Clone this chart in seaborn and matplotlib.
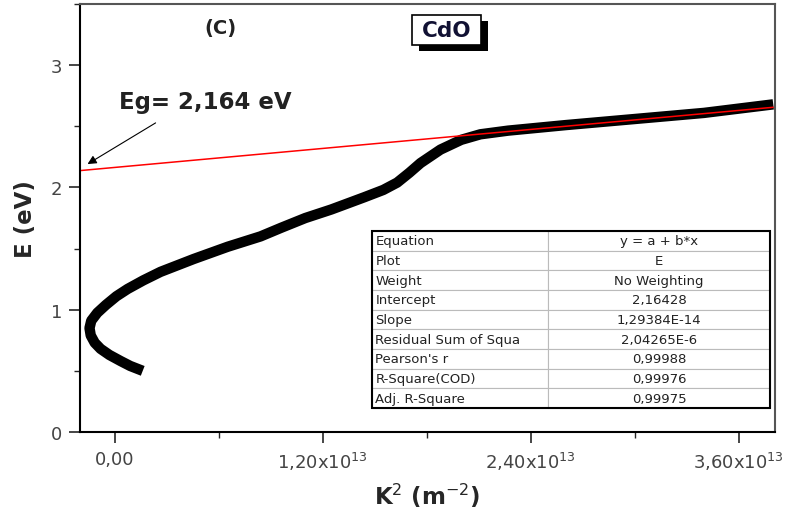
import matplotlib
matplotlib.use("Agg")
import matplotlib.pyplot as plt
import matplotlib.ticker as mticker
from matplotlib.patches import Rectangle
import seaborn as sns
import pandas as pd

# E vs K^2 curve for CdO
k2 = [1.62e12, 0.9e12, 0.35e12, -0.3e12, -0.81e12, -1.15e12, -1.38e12, -1.45e12,
      -1.35e12, -1.0e12, -0.5e12, 0.1e12, 0.75e12, 1.65e12, 2.65e12, 4.56e12,
      6.52e12, 8.42e12, 9.6e12, 1.1e13, 1.25e13, 1.44e13, 1.55e13, 1.63e13,
      1.7e13, 1.765e13, 1.88e13, 2.0e13, 2.11e13, 2.27e13, 2.6e13, 3.0e13,
      3.4e13, 3.8e13]
energy = [0.50, 0.54, 0.58, 0.63, 0.68, 0.73, 0.79, 0.85,
          0.91, 0.975, 1.04, 1.11, 1.17, 1.24, 1.31, 1.415,
          1.515, 1.60, 1.67, 1.75, 1.82, 1.92, 1.98, 2.04,
          2.12, 2.20, 2.31, 2.39, 2.435, 2.465, 2.51, 2.56,
          2.61, 2.68]

# linear fit line, end points
fit_k2 = [-2.0e12, 3.8e13]
fit_E = [2.138, 2.656]

table_keys = ["Equation", "Plot", "Weight", "Intercept", "Slope",
              "Residual Sum of Squa", "Pearson's r", "R-Square(COD)", "Adj. R-Square"]
table_vals = ["y = a + b*x", "E", "No Weighting", "2,16428", "1,29384E-14",
              "2,04265E-6", "0,99988", "0,99976", "0,99975"]

xticks = [0, 1.2e13, 2.4e13, 3.6e13]
xtick_labels = ["0,00", "1,20x10$^{13}$", "2,40x10$^{13}$", "3,60x10$^{13}$"]

df = pd.DataFrame({"K2": k2, "E": energy})
fit_df = pd.DataFrame({"K2": fit_k2, "E": fit_E})

sns.set_style("ticks")
plt.rcParams['font.family'] = ['DejaVu Sans']

fig, ax = plt.subplots(figsize=(7.88, 5.10), dpi=100)
fig.subplots_adjust(left=0.1015, right=0.9835, top=0.99, bottom=0.151)

sns.lineplot(data=df, x="K2", y="E", sort=False, estimator=None, color="black",
             lw=7.5, solid_capstyle="butt", ax=ax)
sns.lineplot(data=fit_df, x="K2", y="E", sort=False, estimator=None, color="red",
             lw=1.1, ax=ax)

ax.set_xlim(-2.0e12, 3.81e13)
ax.set_ylim(0, 3.5)
ax.set_xticks(xticks)
ax.set_xticklabels(xtick_labels)
ax.set_yticks([0, 1, 2, 3])
ax.xaxis.set_minor_locator(mticker.MultipleLocator(0.6e13))
ax.yaxis.set_minor_locator(mticker.MultipleLocator(0.5))
ax.tick_params(which="major", direction="out", length=8, width=1.2,
               labelsize=13, labelcolor="#444444", pad=5)
ax.tick_params(which="minor", direction="out", length=4, width=1.0)

for s in ["left", "bottom"]:
    ax.spines[s].set_linewidth(1.5)
    ax.spines[s].set_color("black")
for s in ["top", "right"]:
    ax.spines[s].set_linewidth(1.5)
    ax.spines[s].set_color("#555555")

ax.set_xlabel("K$^{2}$ (m$^{-2}$)", fontsize=16.5, fontweight="bold", labelpad=6)
ax.set_ylabel("E (eV)", fontsize=16.5, fontweight="bold", labelpad=10)

ax.text(6.1e12, 3.31, "(C)", fontsize=14, fontweight="bold", color="#222222",
        ha="center", va="center")

# CdO label box with drop shadow
ax.add_patch(Rectangle((0.488, 0.890), 0.0985, 0.070, transform=ax.transAxes,
                       fc="black", ec="none", zorder=3))
ax.add_patch(Rectangle((0.478, 0.904), 0.0985, 0.070, transform=ax.transAxes,
                       fc="white", ec="black", lw=1.2, zorder=4))
ax.text(0.527, 0.939, "CdO", transform=ax.transAxes, fontsize=15.5,
        fontweight="bold", color="#111133", ha="center", va="center", zorder=5)

ax.text(5.25e12, 2.70, "Eg= 2,164 eV", fontsize=16.5, fontweight="bold",
        color="#222222", ha="center", va="center")
ax.annotate("", xy=(-1.7e12, 2.18), xytext=(2.5e12, 2.54),
            arrowprops=dict(arrowstyle="-|>", color="black", lw=0.8,
                            mutation_scale=13))

# fit parameter table
cells = [[k, v] for k, v in zip(table_keys, table_vals)]
tbl = ax.table(cellText=cells, colWidths=[0.442, 0.558],
               bbox=[0.42, 0.056, 0.573, 0.414], zorder=5)
tbl.auto_set_font_size(False)
tbl.set_fontsize(9.5)
for (r, c), cell in tbl.get_celld().items():
    cell.set_edgecolor("#bbbbbb")
    cell.set_linewidth(0.8)
    cell.get_text().set_color("#222222")
    if c == 0:
        cell.get_text().set_ha("left")
        cell.PAD = 0.02
    else:
        cell.get_text().set_ha("center")
ax.add_patch(Rectangle((0.42, 0.056), 0.573, 0.414, transform=ax.transAxes,
                       fill=False, ec="black", lw=1.5, zorder=6))

fig.savefig("out.png", dpi=100)
